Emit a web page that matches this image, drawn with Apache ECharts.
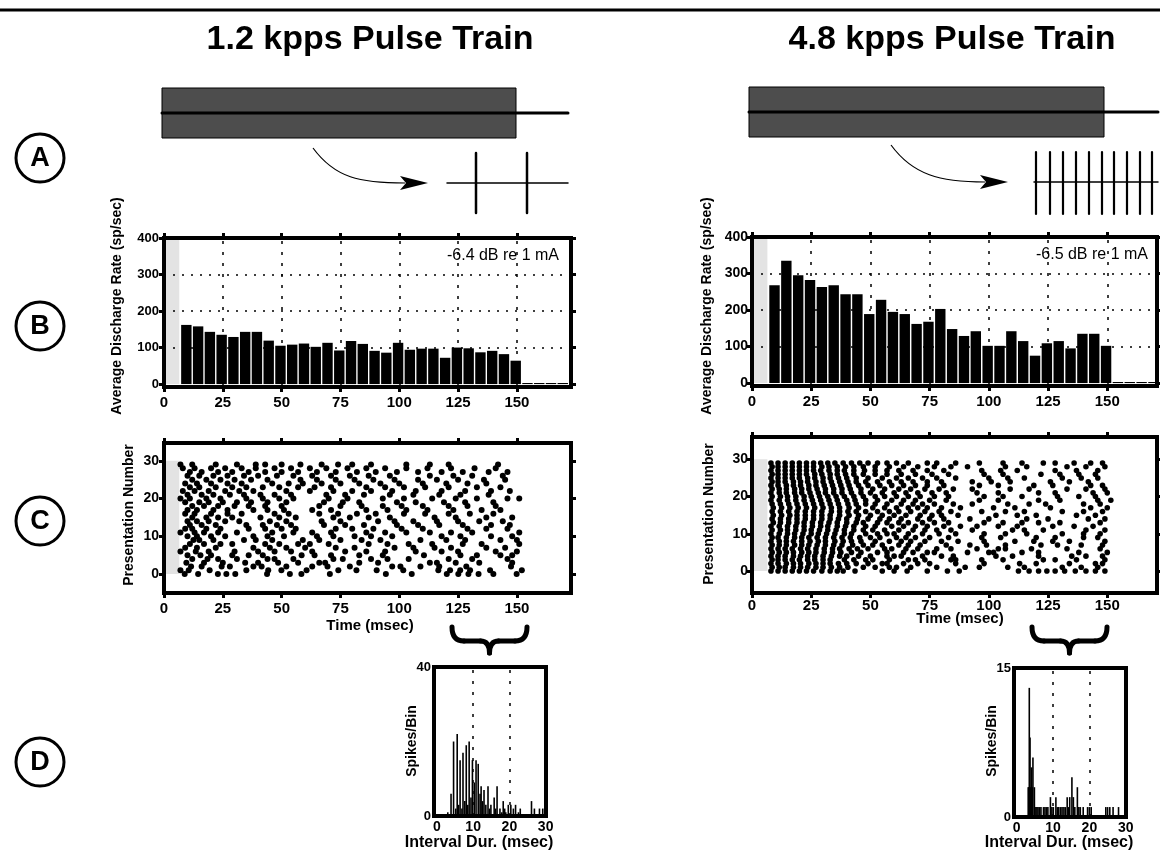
<!DOCTYPE html>
<html><head><meta charset="utf-8">
<script src="https://cdn.jsdelivr.net/npm/echarts@6/dist/echarts.min.js"></script>
<style>html,body{margin:0;padding:0;background:#fff}#c{width:1160px;height:852px}</style>
</head><body><div id="c"></div>
<script>
// ---------- data ----------
const titles = ['1.2 kpps Pulse Train', '4.8 kpps Pulse Train'];
const levelLabels = ['-6.4 dB re 1 mA', '-6.5 dB re 1 mA'];
const timeTicks = [0, 25, 50, 75, 100, 125, 150];
const rateTicks = [0, 100, 200, 300, 400];
const rowTicks = [0, 10, 20, 30];
const intervalTicks = [0, 10, 20, 30];
const countTicksLeft = [0, 40];
const countTicksRight = [0, 15];
const rateGridX = [25, 50, 75, 100, 125, 150];
const rateGridY = [100, 200, 300];
const intervalGridX = [10, 20];
const binCenters = [9.5,14.5,19.5,24.5,29.5,34.5,39.5,44.5,49.5,54.5,59.5,64.5,69.5,74.5,79.5,84.5,89.5,94.5,99.5,104.5,109.5,114.5,119.5,124.5,129.5,134.5,139.5,144.5,149.5,154.5,159.5,164.5,169.5];
const rateLeft = [162,158,143,135,129,143,143,119,105,108,111,102,113,92,118,110,91,86,113,94,97,97,72,100,98,87,91,82,64,3,3,3,3];
const rateRight = [268,335,295,282,263,268,243,243,189,228,195,189,162,168,203,148,129,142,102,102,142,115,75,109,115,95,135,135,102,3,3,3,3];

// spike times (ms) per presentation number 0..29
const rasterLeft = [
 [8.8,14.5,22.9,26.5,30.3,43.8,53.5,58.4,70.5,94.3,105.3,120.2,125.1,129.4,133.7,140,149.9],
 [7,10.5,19.4,35,44.3,49.9,60.6,74.1,81.8,90.4,101.7,116.6,121.6,125.9,130.1,138.6,152.1],
 [11.5,16,24.5,28,38,41.5,52,63,69.5,79,97,100.5,109,117,128.5,147.5],
 [9.5,17,25,34.5,40,48.5,57,66,68.5,83,91,113,116,124,134,148],
 [12,18.5,23,31,44,47,55,72,76,88,95,104,121,131,146],
 [10,15.5,20,29,36,42,58.5,64,71,83,93,110.5,126,133,143,148],
 [7,13.5,19,30,40,47,54,63,77,86,94,107,118,125,141,150],
 [9,14,22,38,45,52,60,73,81,98,106,115,122,137,145],
 [11,17,24,29,43,49,57,62,70,87,95,104,114,127,135,151],
 [12.5,15,21,34,39,46,59,66,75,84,92,109,120,128,143,150],
 [10,14,20,26,38,44,51,65,72,81,88,97,118,126,139,148],
 [7,13,17,23,31,46,55,63,71,86,94,103,113,122,131,151],
 [9,12,18,24,36,43,50,56,73,80,89,101,110,129,137,146],
 [11,16,22,35,42,48,54,68,77,85,99,108,117,127,139,147],
 [10,14,19,26,32,45,52,67,75,91,98,106,116,125,134,144],
 [12,18,23,29,41,49,56,72,79,87,96,115,124,137,148],
 [9,13,20,27,33,47,53,66,74,82,90,102,111,121,130,140],
 [10,14,21,27,38,44,51,63,71,86,95,103,112,123,135,143],
 [12,17,23,30,36,43,50,66,75,84,93,101,110,121,129,141],
 [9,15,19,25,31,37,44,52,68,76,83,99,107,119,128,140],
 [7,11,18,24,35,42,49,55,70,78,93,102,114,124,133,146,151],
 [10,16,21,28,34,41,47,54,69,77,85,96,106,117,126,138],
 [8,13,19,26,32,38,52,62,72,80,88,97,107,118,128,139,147],
 [11,15,22,29,35,42,49,57,64,71,86,94,102,111,121,133,143],
 [9,14,20,27,33,46,53,59,67,75,83,92,100,110,120,129,137],
 [12,18,24,30,37,44,58,65,73,81,89,98,108,116,125,136,145],
 [10,15,21,27,34,40,48,55,63,71,79,87,96,113,123,131,144],
 [11,16,23,29,36,43,50,57,65,73,82,90,99,108,118,127,138,146],
 [8,13,20,26,33,39,47,54,62,69,78,86,94,103,112,122,132,141],
 [7,12,22,31,39,43,50,58,67,74,80,88,103,113,121,142]
];
const rasterRight = [
 [8,11,14,17,20,23,26,29.5,33,36,38.5,43.5,55,60,65.5,74,82.5,87.5,112.5,117,121,124.5,128,132,136.5,141,145,149],
 [8.5,11.5,14,17.5,20.5,23.5,27,30,33.5,37,40.5,47,52,58,61,67,78,90,96,108,115,131,139,146],
 [8,11,14.5,17.5,20.5,24,27,30,33,36.5,40,44,49,55,57,64,70,75,86,98,113,120,134,145,148],
 [8.5,11,14,17,20,23.5,26.5,30,33,39,43,48,51,58,66,69,73,84,86,97,106,123,128,137,149],
 [8,11,14,17.5,20.5,23.5,26.5,30,33.5,37,40,45,50,57,60,63,72,80,85,103,110,121,135,141,148],
 [8.5,11.5,14.5,17.5,21,24,27,30.5,34,37.5,42,46,53,57,64,68,74,77,91,100,102,114,121,138,150],
 [8,11,14,17,20.5,23.5,27,30.5,34,37,41,44.5,49,56,59,65,70,78,84,95,104,107,118,133,147],
 [8.5,11.5,14.5,18,21,24,27.5,31,34.5,38,42.5,47,51,55,62,66,71,82,92,99,107,122,129,139,148],
 [8,11.5,14.5,17.5,21,24.5,28,31,35,38.5,42,46,52,58,63,67,73,80,87,98,111,119,127,134,149],
 [8.5,11,14.5,18,21,24,27.5,31,34.5,38,41.5,45.5,50,54,61,65,69,75,83,97,105,120,128,140,146],
 [8,11.5,15,18,21.5,25,28,31.5,35,39,42,48,53,57,60,66,72,79,86,98,107,116,131,140,147],
 [8.5,12,15,18.5,22,25,28.5,32,35.5,39,43,47,51,56,62,68,73,78,84,93,110,115,123,141,149],
 [8,11.5,15,18.5,22,25.5,29,32,36,39.5,43,48,52,59,64,69,74,81,88,95,104,112,127,136,144],
 [9,12,15.5,19,22,25.5,29,32.5,36,40,44,47,53,57,62,66,72,77,83,98,106,114,121,130,147],
 [8.5,12,15.5,19,22.5,26,29.5,33,36.5,40,44.5,49,54,58,63,70,75,81,92,100,116,125,142,149],
 [9,12.5,16,19,22.5,26,29.5,33,37,41,45,50,55,60,65,71,76,80,87,103,112,120,137,145],
 [8.5,12,15.5,19,22.5,26,29.5,33.5,37,40.5,44,48,53,58,62,67,73,79,84,97,107,115,131,140,148],
 [9,12.5,16,19.5,23,26.5,30,33.5,37,41,45,51,56,61,66,70,74,80,88,102,111,126,143,150],
 [8.5,12,15.5,19,22.5,26,29.5,33,36.5,40.5,44,48,52,57,63,68,72,77,85,93,108,117,124,140,147],
 [8,11.5,15,18.5,22,25.5,29,32.5,36,40,43.5,48,53,59,64,69,75,82,96,104,121,130,146,151.5],
 [8.5,12,15,18.5,22,25,28.5,32,35.5,39,43,47,52,56,61,66,71,77,83,98,106,114,129,138,145],
 [8,11.5,14.5,18,21,24.5,28,31,34.5,38,42,46,50,55,60,65,70,76,82,95,104,121,128,144,150],
 [8.5,11.5,14.5,18,21,24,27.5,31,34.5,38,41.5,46,51,56,62,67,73,79,85,93,109,117,133,141,149],
 [8,11,14.5,17.5,20.5,24,27,30.5,34,37.5,41,45,49,54,59,64,69,74,81,96,104,119,127,143,148],
 [8.5,11,14,17.5,20.5,23.5,27,30,33.5,37,40.5,44,48,53,58,63,68,74,80,93,101,109,126,134,142],
 [8,11,14,17,20,23.5,26.5,30,33,36.5,40,44,49,55,61,66,72,78,86,100,108,115,131,139,146],
 [8.5,11,14,17,20,23,26.5,29.5,33,36,39.5,43,47,52,57,63,69,76,83,98,106,122,130,138,145],
 [8,11,14,17,20,23,26,29,32.5,36,39,43,47.5,52,57,62,68,74,81,97,105,112,128,137,146],
 [8.5,11,14,17,20,23,26,29.5,32.5,36,39.5,43,47,52,58,64,70,77,84,91,107,116,133,141,149],
 [8,11,14,17,20,23,26,29,32,35,38.5,42,45.5,49,53,57,61,66,74,78,86,96,106,114,123,128,136,143,148]
];
// interval histograms: [interval ms, spikes per bin]
const histLeft = [[3,1],[3.9,6],[4.6,20],[5.2,2],[5.6,22],[6,3],[6.4,15],[6.9,2],[7.2,17],[7.7,4],[8.1,19],[8.5,3],[8.9,20],[9.4,5],[9.8,15],[10.3,9],[10.8,15],[11.4,14],[11.9,6],[12.2,8],[12.6,4],[13,7],[13.5,3],[14.1,8],[14.5,2],[14.9,3],[15.8,5],[16.2,2],[16.6,8],[17.4,2],[17.9,1],[18.3,4],[18.7,2],[19,1],[19.7,3],[20.4,3],[21.1,2],[21.7,3],[22.5,1],[23,2],[26.1,4],[26.9,2],[28.3,2],[29.2,2]];
const histRight = [[3.2,3],[3.4,3],[3.5,13],[3.7,8],[3.9,3],[4.1,5],[4.3,3],[4.5,6],[4.9,3],[5.3,1],[5.6,1],[5.9,1],[6.3,1],[6.7,1],[7.4,1],[7.8,1],[8.2,1],[8.6,1],[9.3,2],[9.7,1],[10.1,1],[10.8,2],[11.2,1],[11.6,1],[12.1,1],[12.5,1],[13,1],[13.4,1],[13.9,2],[14.3,1],[14.6,2],[15.2,4],[15.6,2],[16,1],[16.7,3],[17.1,1],[17.5,1],[18.3,1],[19.5,1],[20,1],[20.5,1],[24.5,1],[25,1],[25.6,1],[26.5,1],[28,1]];

// ---------- chart ----------
const FONT = '"Liberation Sans", Arial, Helvetica, sans-serif';
const grids = [], xAxes = [], yAxes = [], series = [];
function addPanel(p) {
  const gi = grids.length;
  grids.push({left: p.left, top: p.top, width: p.width, height: p.height, show: true, z: 10,
    borderColor: '#000', borderWidth: 4, backgroundColor: 'transparent'});
  const xi = xAxes.length, yi = yAxes.length;
  const tick = (vals, show) => ({show: show, customValues: vals, inside: false, length: 5, lineStyle: {color: '#000', width: 3}});
  xAxes.push({gridIndex: gi, type: 'value', position: 'bottom', min: p.xMin, max: p.xMax,
    axisLine: {show: false, onZero: false}, axisTick: tick(p.xTicks, p.ticks),
    axisLabel: {customValues: p.xTicks, color: '#000', fontFamily: FONT, fontWeight: 'bold', fontSize: p.xFont, margin: p.xMargin},
    splitLine: {show: false}});
  xAxes.push({gridIndex: gi, type: 'value', position: 'top', min: p.xMin, max: p.xMax,
    axisLine: {show: false, onZero: false}, axisTick: tick(p.xTicks, p.ticks),
    axisLabel: {show: false}, splitLine: {show: false}});
  yAxes.push({gridIndex: gi, type: 'value', position: 'left', min: p.yMin, max: p.yMax,
    axisLine: {show: false, onZero: false}, axisTick: tick(p.yTicks, p.ticks),
    axisLabel: {customValues: p.yTicks, color: '#000', fontFamily: FONT, fontWeight: 'bold', fontSize: p.yFont, margin: p.yMargin},
    splitLine: {show: false}});
  yAxes.push({gridIndex: gi, type: 'value', position: 'right', min: p.yMin, max: p.yMax,
    axisLine: {show: false, onZero: false}, axisTick: tick(p.yTicks, p.ticks),
    axisLabel: {show: false}, splitLine: {show: false}});
  return {xi: xi, yi: yi};
}
const dotV = {color: '#000', width: 1.5, type: [3, 8]};
const dotH = {color: '#000', width: 1.5, type: [2, 7]};
function gridLines(xs, ys) {
  return {silent: true, symbol: 'none', z: 1, label: {show: false}, animation: false,
    data: xs.map(v => ({xAxis: v, lineStyle: dotV})).concat(ys.map(v => ({yAxis: v, lineStyle: dotH})))};
}
function band(x0, x1, y0, y1) {
  return {silent: true, z: 0, itemStyle: {color: '#e3e3e3'}, label: {show: false}, data: [[{xAxis: x0, yAxis: y0}, {xAxis: x1, yAxis: y1}]]};
}

const panels = [
  {left: 164, top: 238, width: 407, height: 149, xMin: 0, xMax: 173, yMin: -8, yMax: 400, xTicks: timeTicks, yTicks: rateTicks, xFont: 15, yFont: 13, xMargin: 8, yMargin: 5, ticks: true},
  {left: 752, top: 237, width: 405, height: 149, xMin: 0, xMax: 171, yMin: -8, yMax: 400, xTicks: timeTicks, yTicks: rateTicks, xFont: 15, yFont: 14, xMargin: 8, yMargin: 4, ticks: true},
  {left: 164, top: 443, width: 407, height: 150, xMin: 0, xMax: 173, yMin: -5, yMax: 34.7, xTicks: timeTicks, yTicks: rowTicks, xFont: 15, yFont: 14, xMargin: 8, yMargin: 5, ticks: true},
  {left: 752, top: 437, width: 405, height: 156, xMin: 0, xMax: 171, yMin: -5.9, yMax: 36, xTicks: timeTicks, yTicks: rowTicks, xFont: 15, yFont: 14, xMargin: 5, yMargin: 4, ticks: true},
  {left: 434, top: 667, width: 112, height: 149, xMin: -0.8, xMax: 30.1, yMin: 0, yMax: 40, xTicks: intervalTicks, yTicks: countTicksLeft, xFont: 14, yFont: 13, xMargin: 4, yMargin: 3, ticks: false},
  {left: 1014, top: 668, width: 112, height: 149, xMin: -0.7, xMax: 30.05, yMin: 0, yMax: 15, xTicks: intervalTicks, yTicks: countTicksRight, xFont: 14, yFont: 13, xMargin: 4, yMargin: 3, ticks: false}
];
const ax = panels.map(addPanel);

// B: discharge rate histograms
[rateLeft, rateRight].forEach((vals, k) => {
  series.push({type: 'bar', xAxisIndex: ax[k].xi, yAxisIndex: ax[k].yi, barWidth: 10.4, z: 3,
    itemStyle: {color: '#000'}, data: binCenters.map((c, i) => [c, vals[i]]),
    markLine: gridLines(rateGridX, rateGridY), markArea: band(0, 6.5, 0, 400)});
});
// C: rasters
[rasterLeft, rasterRight].forEach((rows, k) => {
  const pts = [];
  rows.forEach((row, r) => row.forEach(t => pts.push([t, r])));
  series.push({type: 'scatter', xAxisIndex: ax[2 + k].xi, yAxisIndex: ax[2 + k].yi, symbol: 'circle',
    symbolSize: k === 0 ? 6 : 5.6, z: 3, itemStyle: {color: '#000', opacity: 1}, data: pts, markArea: band(0.5, 6.5, 0, 30)});
});
// D: interval histograms
[histLeft, histRight].forEach((h, k) => {
  series.push({type: 'bar', xAxisIndex: ax[4 + k].xi, yAxisIndex: ax[4 + k].yi, barWidth: 1.6, z: 3,
    itemStyle: {color: '#000'}, data: h, markLine: gridLines(intervalGridX, [])});
});

// ---------- decorations ----------
const G = [];
const txt = (text, x, y, font, align) => ({type: 'text', z: 20, silent: true,
  style: {text: text, x: x, y: y, font: font, fill: '#000', align: align || 'center', verticalAlign: 'middle', textAlign: align || 'center', textVerticalAlign: 'middle'}});
const line = (x1, y1, x2, y2, w) => ({type: 'line', z: 20, silent: true, shape: {x1: x1, y1: y1, x2: x2, y2: y2}, style: {stroke: '#000', lineWidth: w, lineCap: 'round'}});
const qcurve = (x1, y1, cx, cy, x2, y2, w) => ({type: 'bezierCurve', z: 20, silent: true, shape: {x1: x1, y1: y1, cpx1: cx, cpy1: cy, x2: x2, y2: y2}, style: {stroke: '#000', lineWidth: w, fill: null, lineCap: 'round'}});
G.push(line(0, 10, 1160, 10, 3));
G.push(txt(titles[0], 370, 40, 'bold 34px ' + FONT));
G.push(txt(titles[1], 952, 40, 'bold 34px ' + FONT));
// stimulus bars
G.push({type: 'rect', z: 20, shape: {x: 162, y: 88, width: 354, height: 50}, style: {fill: '#4d4d4d', stroke: '#000', lineWidth: 1}});
G.push(line(162, 113, 568, 113, 3));
G.push({type: 'rect', z: 20, shape: {x: 749, y: 87, width: 355, height: 50}, style: {fill: '#4d4d4d', stroke: '#000', lineWidth: 1}});
G.push(line(749, 112, 1158, 112, 3));
// curved arrows
G.push({type: 'bezierCurve', z: 20, shape: {x1: 313, y1: 148, cpx1: 335, cpy1: 178, cpx2: 360, cpy2: 183, x2: 405, y2: 183}, style: {stroke: '#000', lineWidth: 1.2, fill: null}});
G.push({type: 'polygon', z: 20, shape: {points: [[400, 176], [428, 183], [400, 190], [406, 183]]}, style: {fill: '#000'}});
G.push({type: 'bezierCurve', z: 20, shape: {x1: 891, y1: 145, cpx1: 913, cpy1: 175, cpx2: 940, cpy2: 182, x2: 985, y2: 182}, style: {stroke: '#000', lineWidth: 1.2, fill: null}});
G.push({type: 'polygon', z: 20, shape: {points: [[980, 175], [1008, 182], [980, 189], [986, 182]]}, style: {fill: '#000'}});
// pulse trains
G.push(line(447, 183, 568, 183, 1.5));
[476, 527].forEach(x => G.push(line(x, 153, x, 213, 2.5)));
G.push(line(1034, 182, 1158, 182, 1.5));
[1036, 1050, 1063, 1076, 1089, 1102, 1114, 1127, 1140, 1152].forEach(x => G.push(line(x, 152, x, 214, 2.2)));
// circled panel letters
[['A', 158], ['B', 326], ['C', 521], ['D', 762]].forEach(([l, y]) => {
  G.push({type: 'circle', z: 20, shape: {cx: 40, cy: y, r: 24}, style: {fill: '#fff', stroke: '#000', lineWidth: 3}});
  G.push(txt(l, 40, y + 1, 'bold 27px ' + FONT));
});
// braces
function brace(x1, x2) {
  const m = (x1 + x2) / 2, w = 5;
  G.push(qcurve(x1, 627, x1, 641, x1 + 12, 641, w));
  G.push(line(x1 + 12, 641, m - 9, 641, w));
  G.push(qcurve(m - 9, 641, m, 641, m, 653, w));
  G.push(qcurve(m, 653, m, 641, m + 9, 641, w));
  G.push(line(m + 9, 641, x2 - 12, 641, w));
  G.push(qcurve(x2 - 12, 641, x2, 641, x2, 627, w));
}
brace(452, 527);
brace(1032, 1107);
// level labels
G.push(txt(levelLabels[0], 559, 256, '16px ' + FONT, 'right'));
G.push(txt(levelLabels[1], 1148, 255, '16px ' + FONT, 'right'));
// axis titles
const vtxt = (t, x, y, size) => ({type: 'text', z: 20, silent: true, x: x, y: y, rotation: Math.PI / 2,
  style: {text: t, x: 0, y: 0, font: 'bold ' + size + 'px ' + FONT, fill: '#000', align: 'center', verticalAlign: 'middle', textAlign: 'center', textVerticalAlign: 'middle'}});
G.push(vtxt('Average Discharge Rate (sp/sec)', 117, 306, 14));
G.push(vtxt('Average Discharge Rate (sp/sec)', 707, 306, 14));
G.push(vtxt('Presentation Number', 129, 515, 14));
G.push(vtxt('Presentation Number', 709, 514, 14));
G.push(vtxt('Spikes/Bin', 412, 741, 14));
G.push(vtxt('Spikes/Bin', 992, 741, 14));
G.push(txt('Time (msec)', 370, 626, 'bold 15px ' + FONT));
G.push(txt('Time (msec)', 960, 619, 'bold 15px ' + FONT));
G.push(txt('Interval Dur. (msec)', 479, 843, 'bold 16px ' + FONT));
G.push(txt('Interval Dur. (msec)', 1059, 843, 'bold 16px ' + FONT));

const chart = echarts.init(document.getElementById('c'), null, {renderer: 'canvas', width: 1160, height: 852});
chart.setOption({
  animation: false, backgroundColor: '#fff',
  grid: grids, xAxis: xAxes, yAxis: yAxes, series: series, graphic: {elements: G}
});
</script></body></html>
